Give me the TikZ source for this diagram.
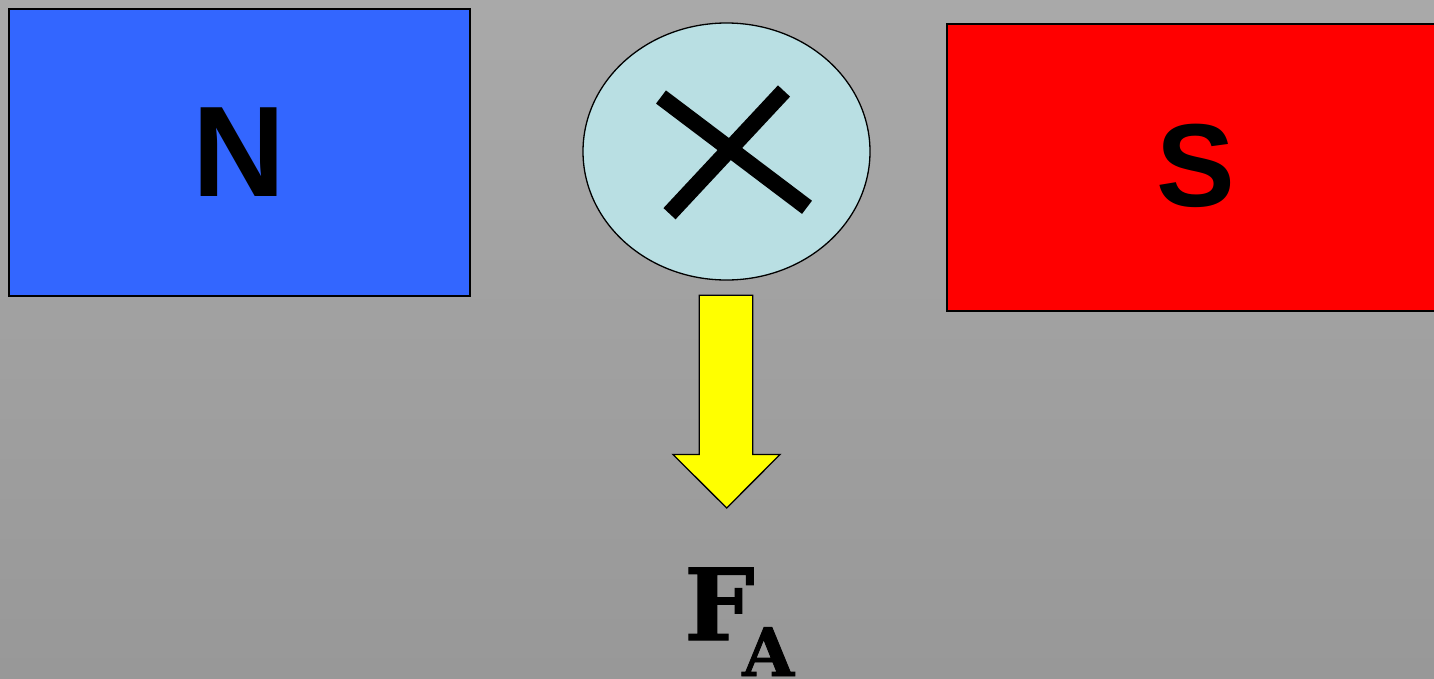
\documentclass[tikz,border=0pt]{standalone}
\usepackage{fontspec}
\usetikzlibrary{shapes.geometric}
\newfontfamily\lsans{Liberation Sans}
\newfontfamily\dserif{DejaVu Serif}[BoldFeatures={FakeBold=1.2}]
\definecolor{bgtop}{HTML}{A9A9A9}
\definecolor{bgbot}{HTML}{989898}
\definecolor{nblue}{HTML}{3366FF}
\definecolor{sred}{HTML}{FF0000}
\definecolor{wirec}{HTML}{B9DFE3}
\definecolor{fyel}{HTML}{FFFF00}
\tikzset{
  pole/.style={draw=black, line width=1.6pt, rectangle, inner sep=0pt, anchor=north west},
  polelabel/.style={font=\lsans\bfseries, text=black, inner sep=0pt},
  cross/.style={line width=16.5pt, line cap=butt, black},
}
\begin{document}
\begin{tikzpicture}[x=1pt, y=-1pt]
\shade[top color=bgtop, bottom color=bgbot] (0,0) rectangle (1434,678);
\useasboundingbox (0,0) rectangle (1434,678);
% magnets
\node[pole, fill=nblue, minimum width=461pt, minimum height=287pt] (N) at (8,8) {};
\node[pole, fill=sred, minimum width=500pt, minimum height=287pt] (S) at (946,23) {};
\node[polelabel, font=\lsans\bfseries\fontsize{129}{129}\selectfont] (Nl) at (238.7,152) {N};
\node[polelabel, font=\lsans\bfseries\fontsize{118}{118}\selectfont] (Sl) at (1195.4,166) {S};
% wire
\node[ellipse, draw=black, line width=1.3pt, fill=wirec, minimum width=287pt, minimum height=257pt, inner sep=0pt] (W) at (726.5,151.5) {};
\draw[cross] (661,97) -- (807,207.3);
\draw[cross] (669.5,213.7) -- (784,91);
% force arrow
\draw[fill=fyel, draw=black, line width=1.3pt, line join=miter]
  (699.3,295.3) -- (752.7,295.3) -- (752.7,454.5) -- (780,454.5) -- (726.7,508) -- (673,454.5) -- (699.3,454.5) -- cycle;
% label
\node[inner sep=0pt, anchor=base west, font=\dserif\bfseries\fontsize{99}{99}\selectfont] (F) at (684,640) {F};
\node[inner sep=0pt, anchor=base west, font=\dserif\bfseries\fontsize{67}{67}\selectfont] (A) at (742,676) {A};
\end{tikzpicture}
\end{document}
